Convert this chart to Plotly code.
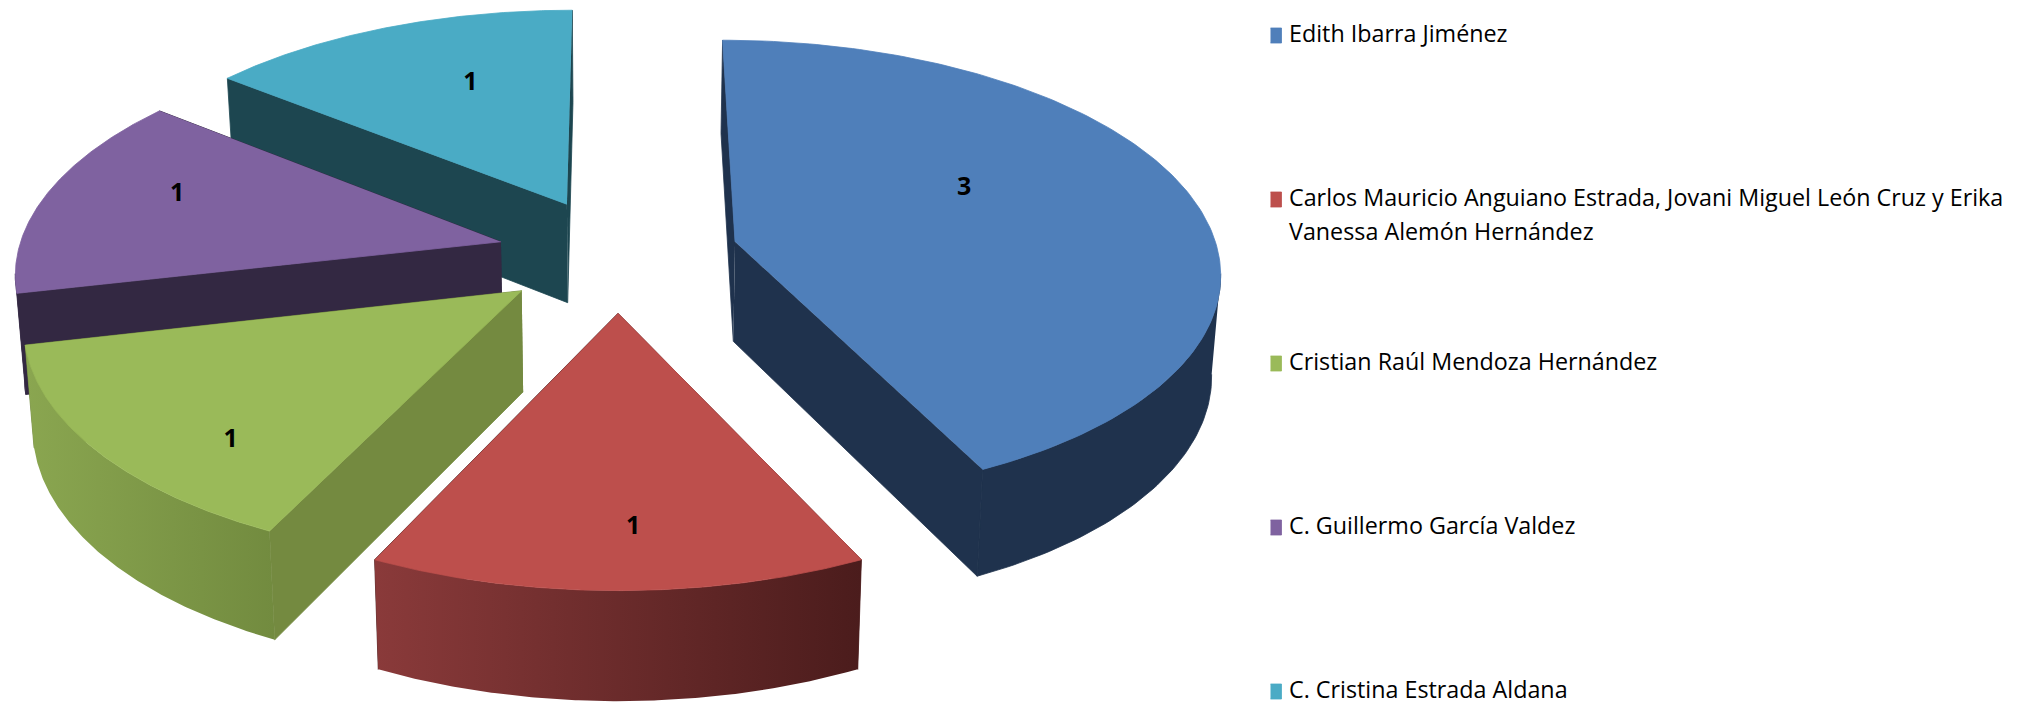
import numpy as np
import plotly.graph_objects as go

# ---- data ----
names = ["Edith Ibarra Jiménez",
         "Carlos Mauricio Anguiano Estrada, Jovani Miguel León Cruz y Erika Vanessa Alemón Hernández",
         "Cristian Raúl Mendoza Hernández",
         "C. Guillermo García Valdez",
         "C. Cristina Estrada Aldana"]
values = [3, 1, 1, 1, 1]
legend_lines = [["Edith Ibarra Jiménez"],
                ["Carlos Mauricio Anguiano Estrada, Jovani Miguel León Cruz y Erika",
                 "Vanessa Alemón Hernández"],
                ["Cristian Raúl Mendoza Hernández"],
                ["C. Guillermo García Valdez"],
                ["C. Cristina Estrada Aldana"]]
top_colors = ["#4f7fba", "#bd4f4c", "#9aba59", "#7f62a0", "#4aabc5"]
cut_colors = ["#1f324d", "#4d1e1e", "#748a40", "#332842", "#1d4650"]
side_left = ["#1f324d", "#8a3a3a", "#8aa650", "#332842", "#1d4650"]
side_right = ["#1f324d", "#4b1c1c", "#728b3f", "#332842", "#1d4650"]

# ---- layout parameters (pixels) ----
CX, CY, RX, RY, HEIGHT = 618.0, 254.4, 483.5, 228.6, 100.0
EXPLODE, PERSP, DEPTH_SHRINK, HEIGHT_PERSP = 0.25, 0.12, 0.985, 0.6
WALL_COS = -0.136
LABEL_R = [0.56, 0.786, 0.785, 0.735, 0.65]
LABEL_ANG = [63.0, 178.0, 223.0, 288.0, 339.5]
LABEL_DY = 3.0
DRAW_ORDER = [4, 3, 0, 2, 1]
LEGEND_X, LEGEND_Y, LEGEND_STEP, LINE_STEP = 1276.0, 35.5, 164.0, 33.5
TEXT_DY = 1.0
SWATCH_W, SWATCH_H = 11.0, 15.0
FONT = "Open Sans"


def project(X, Y, z=0.0):
    X, Y = np.asarray(X, float), np.asarray(Y, float)
    f = 1.0 / (1.0 + PERSP * Y)
    g = 1.0 - (1.0 - DEPTH_SHRINK) * z
    return CX + X * RX * f * g, CY - Y * RY * f + z * HEIGHT * (1.0 + HEIGHT_PERSP * (f - 1.0))


fig = go.Figure()


def poly(px, py, color, name, gradient=None):
    kw = dict(fillcolor=color)
    lw = 0.8
    if gradient:
        kw = dict(fillgradient=dict(type="horizontal", colorscale=[[0, gradient[0]], [1, gradient[1]]]))
        lw = 0
    fig.add_trace(go.Scatter(x=px, y=py, mode="lines", fill="toself", line=dict(width=lw, color=color),
                             name=name, showlegend=False, hoverinfo="skip", **kw))


fracs = np.array(values, float) / sum(values)
ends = np.cumsum(fracs) * 2 * np.pi
starts = ends - fracs * 2 * np.pi

for i in DRAW_ORDER:
    a0, a1 = starts[i], ends[i]
    mid = (a0 + a1) / 2
    ex, ey = EXPLODE * np.sin(mid), EXPLODE * np.cos(mid)
    th = np.linspace(a0, a1, 160)
    ax, ay = ex + np.sin(th), ey + np.cos(th)

    # radial cut faces: split into those turned away from and towards the viewer
    back, front_faces = [], []
    for a, toward in ((a0, np.sin(a0) < -1e-9), (a1, np.sin(a1) > 1e-9)):
        fx, fy = np.array([ex, ex + np.sin(a)]), np.array([ey, ey + np.cos(a)])
        tx, ty = project(fx, fy, 0.0)
        bx, by = project(fx, fy, 1.0)
        (front_faces if toward else back).append((np.r_[tx, bx[::-1]], np.r_[ty, by[::-1]]))
    for px, py in back:
        poly(px, py, cut_colors[i], names[i])

    # outer wall: the part on the viewer's side of the silhouette
    front = np.cos(th) < WALL_COS
    if front.any():
        tx, ty = project(ax[front], ay[front], 0.0)
        bx, by = project(ax[front], ay[front], 1.0)
        poly(np.r_[tx, bx[::-1]], np.r_[ty, by[::-1]], side_right[i], names[i],
             gradient=(side_left[i], side_right[i]) if side_left[i] != side_right[i] else None)

    for px, py in front_faces:
        poly(px, py, cut_colors[i], names[i])

    # top
    tx, ty = project(np.r_[ex, ax], np.r_[ey, ay], 0.0)
    poly(tx, ty, top_colors[i], names[i])

# value labels
lx, ly = [], []
for i in range(len(values)):
    mid = (starts[i] + ends[i]) / 2
    a = np.radians(LABEL_ANG[i])
    x, y = project(EXPLODE * np.sin(mid) + LABEL_R[i] * np.sin(a),
                   EXPLODE * np.cos(mid) + LABEL_R[i] * np.cos(a))
    lx.append(float(x)); ly.append(float(y) + LABEL_DY)
fig.add_trace(go.Scatter(x=lx, y=ly, mode="text", text=[str(v) for v in values], textposition="middle center",
                         textfont=dict(family=FONT, size=25, color="#000000", weight="bold"),
                         showlegend=False, hoverinfo="skip"))

# legend
for i, lines in enumerate(legend_lines):
    y0 = LEGEND_Y + i * LEGEND_STEP
    sx = LEGEND_X
    poly([sx - SWATCH_W / 2, sx + SWATCH_W / 2, sx + SWATCH_W / 2, sx - SWATCH_W / 2],
         [y0 - SWATCH_H / 2, y0 - SWATCH_H / 2, y0 + SWATCH_H / 2, y0 + SWATCH_H / 2],
         top_colors[i], names[i])
    fig.add_trace(go.Scatter(x=[LEGEND_X + 13] * len(lines),
                             y=[y0 + TEXT_DY + k * LINE_STEP for k in range(len(lines))],
                             mode="text", text=lines, textposition="middle right",
                             textfont=dict(family=FONT, size=23.3, color="#000000"),
                             showlegend=False, hoverinfo="skip"))

fig.update_layout(width=2025, height=704, margin=dict(l=0, r=0, t=0, b=0),
                  paper_bgcolor="white", plot_bgcolor="white", showlegend=False,
                  xaxis=dict(range=[0, 2025], visible=False, fixedrange=True),
                  yaxis=dict(range=[704, 0], visible=False, fixedrange=True))
fig.write_html("out.html", config=dict(displayModeBar=False),
               post_script="document.body.style.margin='0';document.documentElement.style.overflow='hidden';")
